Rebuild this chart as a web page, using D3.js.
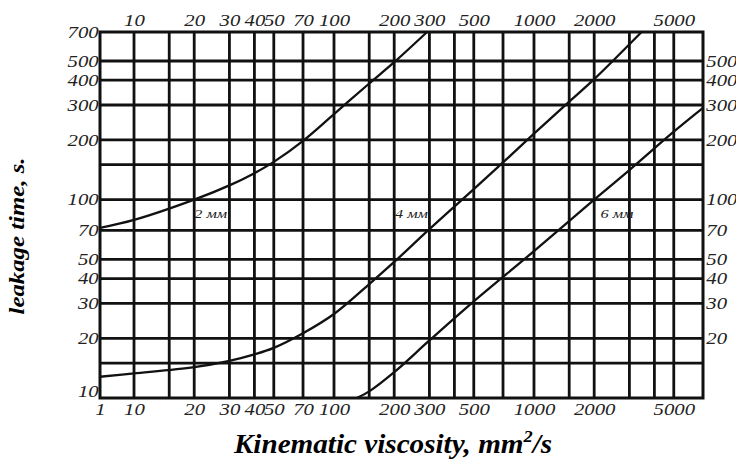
<!DOCTYPE html>
<html>
<head>
<meta charset="utf-8">
<script src="https://cdn.jsdelivr.net/npm/d3@7"></script>
<style>
  body { margin: 0; background: #fff; }
  svg text { font-family: "Liberation Serif", "Times New Roman", serif; }
</style>
</head>
<body>
<div id="container"></div>
<script>
var width = 736, height = 459;

// grid lines (values on the log scales)
var xGrid = [10, 15, 20, 30, 40, 50, 70, 100, 150, 200, 300, 400, 500, 700, 1000, 1500, 2000, 3000, 4000, 5000];
var yGrid = [15, 20, 30, 40, 50, 70, 100, 150, 200, 300, 400, 500];

// tick labels
var xLabels = [10, 20, 30, 40, 50, 70, 100, 200, 300, 500, 1000, 2000, 5000];
var xEdgeLabel = "1";   // printed at the left edge of the bottom scale
var yLabelsLeft = [10, 20, 30, 40, 50, 70, 100, 200, 300, 400, 500, 700];
var yLabelsRight = [20, 30, 40, 50, 70, 100, 200, 300, 400, 500];

// curves: kinematic viscosity (mm2/s) -> leakage time (s)
var visc2 = [6.76, 10, 20, 30, 40, 50, 70, 100, 150, 200, 292];
var time2 = [72, 79, 100, 118, 136, 155, 198, 270, 385, 493, 700];

var visc4 = [6.76, 10, 20, 30, 40, 50, 70, 100, 150, 200, 300, 500, 700, 1000, 1500, 2000, 3450];
var time4 = [12.8, 13.3, 14.3, 15.4, 16.6, 17.9, 21.2, 26.5, 37.5, 48.5, 71, 113, 154, 215, 312, 405, 700];

var visc6 = [130, 150, 200, 300, 500, 1000, 2000, 3000, 5000, 7000];
var time6 = [10, 10.8, 13.5, 19.5, 30.7, 55, 100, 141, 220, 290];

var curveNames = ["2 мм", "4 мм", "6 мм"];
var labelVisc = [20, 202, 2150];
var labelTime = [81, 81, 81];

var svg = d3.select("#container").append("svg")
    .attr("width", width)
    .attr("height", height);

var plotL = 100, plotR = 703, plotT = 32, plotB = 398;

var x = d3.scaleLog().domain([6.76, 7000]).range([plotL, plotR]);
var y = d3.scaleLog().domain([10, 700]).range([plotB, plotT]);

var ink = "#111";

// grid
svg.append("g").selectAll("line")
    .data(xGrid).enter().append("line")
    .attr("x1", d => x(d)).attr("x2", d => x(d))
    .attr("y1", plotT).attr("y2", plotB)
    .attr("stroke", ink).attr("stroke-width", 2.8);

svg.append("g").selectAll("line")
    .data(yGrid).enter().append("line")
    .attr("x1", plotL).attr("x2", plotR)
    .attr("y1", d => y(d)).attr("y2", d => y(d))
    .attr("stroke", ink).attr("stroke-width", 2.8);

svg.append("rect")
    .attr("x", plotL).attr("y", plotT)
    .attr("width", plotR - plotL).attr("height", plotB - plotT)
    .attr("fill", "none").attr("stroke", ink).attr("stroke-width", 3);

// curves
var line = d3.line()
    .x(d => x(d[0])).y(d => y(d[1]))
    .curve(d3.curveCatmullRom.alpha(0.5));

[[visc2, time2], [visc4, time4], [visc6, time6]].forEach(function(c) {
    svg.append("path")
        .datum(d3.zip(c[0], c[1]))
        .attr("d", line)
        .attr("fill", "none")
        .attr("stroke", ink)
        .attr("stroke-width", 2.3);
});

svg.append("g").selectAll("text")
    .data(curveNames).enter().append("text")
    .attr("transform", (d, i) => "translate(" + x(labelVisc[i]) + "," + y(labelTime[i]) + ") scale(1.25,1)")
    .attr("font-size", 13)
    .attr("font-style", "italic")
    .attr("fill", "#222")
    .text(d => d);

// axes
function styleAxis(g, stretch) {
    g.select(".domain").remove();
    g.selectAll("line").remove();
    g.selectAll("text")
        .attr("font-size", 16)
        .attr("font-style", "italic")
        .attr("fill", "#222")
        .attr("transform", "scale(" + stretch + ",1)");
}

var bottomTicks = [x.domain()[0]].concat(xLabels);
svg.append("g")
    .attr("transform", "translate(0," + plotB + ")")
    .call(d3.axisBottom(x).tickValues(bottomTicks).tickSize(0).tickPadding(6)
        .tickFormat(d => d === x.domain()[0] ? xEdgeLabel : d))
    .call(g => styleAxis(g, 1.3));

svg.append("g")
    .attr("transform", "translate(0," + plotT + ")")
    .call(d3.axisTop(x).tickValues(xLabels).tickSize(0).tickPadding(6).tickFormat(d => d))
    .call(g => styleAxis(g, 1.3));

svg.append("g")
    .attr("transform", "translate(" + plotL + ",0)")
    .call(d3.axisLeft(y).tickValues(yLabelsLeft).tickSize(0).tickPadding(1).tickFormat(d => d))
    .call(g => styleAxis(g, 1.3))
    .call(g => g.selectAll("text").filter(d => d === y.domain()[0]).attr("dy", "-0.12em"));

svg.append("g")
    .attr("transform", "translate(" + plotR + ",0)")
    .call(d3.axisRight(y).tickValues(yLabelsRight).tickSize(0).tickPadding(2.5).tickFormat(d => d))
    .call(g => styleAxis(g, 1.3));

// axis titles
var title = svg.append("text")
    .attr("transform", "translate(393,453) scale(1.08,1)")
    .attr("text-anchor", "middle")
    .attr("font-size", 27)
    .attr("font-weight", "bold")
    .attr("font-style", "italic")
    .attr("fill", "#000");
title.append("tspan").text("Kinematic viscosity, mm");
title.append("tspan").attr("dy", -11).attr("font-size", 17).text("2");
title.append("tspan").attr("dy", 11).text("/s");

svg.append("text")
    .attr("transform", "translate(24,236) rotate(-90) scale(1.24,1)")
    .attr("text-anchor", "middle")
    .attr("font-size", 20)
    .attr("font-weight", "bold")
    .attr("font-style", "italic")
    .attr("fill", "#000")
    .text("leakage time, s.");
</script>
</body>
</html>
